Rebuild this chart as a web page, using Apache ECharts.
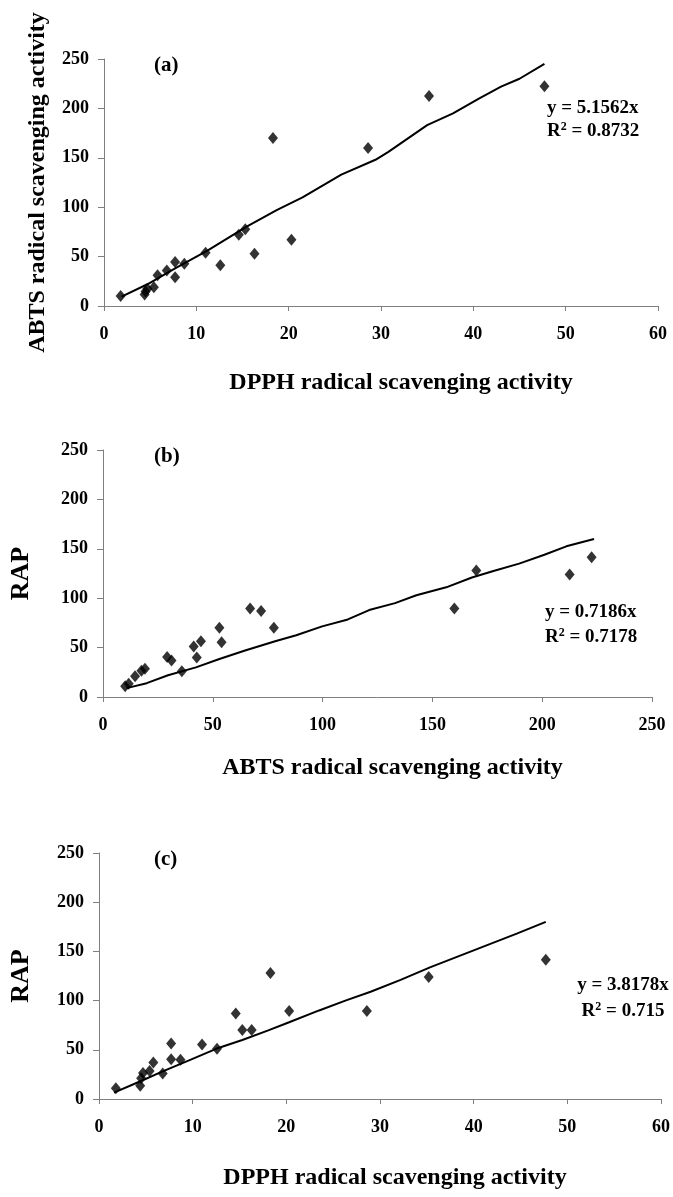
<!DOCTYPE html>
<html>
<head>
<meta charset="utf-8">
<script src="https://cdn.jsdelivr.net/npm/echarts@6/dist/echarts.min.js"></script>
<style>
html,body{margin:0;padding:0;background:#fff;}
#chart{width:673px;height:1197px;}
</style>
</head>
<body>
<div id="chart"></div>
<script>
// Samples (same 20 extracts in all three panels)
const dpph = [1.8, 4.4, 4.5, 4.7, 5.4, 5.8, 6.8, 7.7, 7.7, 8.7, 11.0, 12.6, 14.6, 15.3, 16.3, 18.3, 20.3, 28.6, 35.2, 47.7];
const abts = [10.1, 11.7, 14.6, 17.5, 19.1, 31.2, 35.9, 44.6, 29.2, 42.7, 54.0, 41.3, 72.0, 77.8, 53.0, 170.0, 67.0, 160.0, 212.5, 222.5];
const rap  = [10.8, 13.5, 21.0, 26.5, 28.5, 37.0, 26.0, 56.5, 40.5, 40.0, 55.5, 51.0, 87.0, 70.0, 70.0, 128.0, 89.5, 89.5, 124.0, 141.5];

// Trend lines as drawn in the picture (x, y vertices)
const trendA = [[1.9,9.4],[4.7,22],[7.7,38],[11.2,56],[15.4,80],[18.7,97],[21.5,110],[25.7,133],[29.4,148],[30.8,156],[35,183],[37.8,195],[40.6,210],[43,222],[45,230],[47.7,245]];
const trendB = [[10.7,9],[19.9,14],[29.6,22],[42.3,30],[53,38.5],[64.7,47],[78.4,56.5],[88,62.5],[99.8,71.5],[111.5,78.5],[121.2,88],[133,95],[142.7,103],[156.3,111],[168,121],[177.8,127.5],[189.5,135],[201,144],[211,152.5],[223.6,160]];
const trendC = [[1.6,6.5],[4.3,17.5],[6.8,28],[9.8,40],[12.5,51],[15.3,60],[18,69.5],[20.3,78],[23.5,90],[26.3,100],[29,109],[32.2,121],[35.4,134],[40,151],[44.6,168],[47.7,180]];

// Axis ticks / labels
const dpphAxis = {min: 0, max: 60, interval: 10};
const abtsAxis = {min: 0, max: 250, interval: 50};
const rapAxis  = {min: 0, max: 250, interval: 50};

const panelLabels = ['(a)', '(b)', '(c)'];
const eqLines = [
  ['y = 5.1562x', 'R{sup|2} = 0.8732'],
  ['y = 0.7186x', 'R{sup|2} = 0.7178'],
  ['y = 3.8178x', 'R{sup|2} = 0.715']
];
const xNames = ['DPPH radical scavenging activity', 'ABTS radical scavenging activity', 'DPPH radical scavenging activity'];
const yNames = ['ABTS radical scavenging activity', 'RAP', 'RAP'];

const FONT = "'Liberation Serif','Times New Roman',serif";
const axisColor = '#7f7f7f';

const grids = [
  {left: 104, top: 59, width: 554, height: 247},
  {left: 97, top: 450, width: 555, height: 247},
  {left: 97, top: 853, width: 566, height: 246}
];

function xAxisCfg(i, range, name, nameGap, shift) {
  return {
    type: 'value', gridIndex: i, min: range.min, max: range.max, interval: range.interval,
    name: name, nameLocation: 'middle', nameGap: nameGap,
    nameTextStyle: {fontFamily: FONT, fontWeight: 'bold', fontSize: 24, color: '#000', padding: [0, 0, 0, shift]},
    axisLine: {show: true, onZero: false, lineStyle: {color: axisColor, width: 1}},
    axisTick: {show: true, length: 5, inside: false, lineStyle: {color: axisColor}},
    axisLabel: {fontFamily: FONT, fontWeight: 'bold', fontSize: 18, color: '#000', margin: 19},
    splitLine: {show: false}
  };
}
function yAxisCfg(i, range, name, nameGap, size) {
  return {
    type: 'value', gridIndex: i, min: range.min, max: range.max, interval: range.interval,
    name: name, nameLocation: 'middle', nameGap: nameGap, nameRotate: 90,
    nameTextStyle: {fontFamily: FONT, fontWeight: 'bold', fontSize: size, color: '#000'},
    axisLine: {show: true, onZero: false, lineStyle: {color: axisColor, width: 1}},
    axisTick: {show: true, length: 6, inside: false, lineStyle: {color: axisColor}},
    axisLabel: {fontFamily: FONT, fontWeight: 'bold', fontSize: 18, color: '#000', margin: 15},
    splitLine: {show: false}
  };
}

const scatterStyle = {symbol: 'diamond', symbolSize: [10, 12], itemStyle: {color: '#000'}};
const lineStyleCfg = {symbol: 'none', lineStyle: {color: '#000', width: 2}, silent: true};

const eqPos = [
  {x: 547, y1: 108, y2: 131, align: 'left'},
  {x: 545, y1: 612, y2: 637, align: 'left'},
  {x: 623, y1: 985, y2: 1011, align: 'center'}
];
const labelPos = [{x: 154, y: 67}, {x: 154, y: 458}, {x: 154, y: 861}];

const graphics = [];
panelLabels.forEach((t, i) => {
  graphics.push({type: 'text', left: labelPos[i].x, top: labelPos[i].y - 12,
    style: {text: t, font: "bold 21px " + FONT, fill: '#000'}});
});
eqLines.forEach((lines, i) => {
  const p = eqPos[i];
  [p.y1, p.y2].forEach((yy, k) => {
    graphics.push({type: 'text', x: p.x, y: yy,
      style: {text: lines[k], font: "bold 19px " + FONT, fill: '#000', align: p.align, verticalAlign: 'middle',
        rich: {sup: {fontSize: 12, fontWeight: 'bold', fontFamily: FONT, verticalAlign: 'top', padding: [0, 0, 8, 0], fill: '#000'}}}});
  });
});

const option = {
  backgroundColor: '#fff',
  animation: false,
  grid: grids,
  xAxis: [
    xAxisCfg(0, dpphAxis, xNames[0], 65, 40),
    xAxisCfg(1, abtsAxis, xNames[1], 59, 30),
    xAxisCfg(2, dpphAxis, xNames[2], 67, 30)
  ],
  yAxis: [
    yAxisCfg(0, abtsAxis, yNames[0], 54, 24),
    yAxisCfg(1, rapAxis, yNames[1], 69, 26),
    yAxisCfg(2, rapAxis, yNames[2], 65, 26)
  ],
  series: [
    Object.assign({type: 'line', xAxisIndex: 0, yAxisIndex: 0, data: trendA, z: 2}, lineStyleCfg),
    Object.assign({type: 'scatter', xAxisIndex: 0, yAxisIndex: 0, data: dpph.map((d, i) => [d, abts[i]]), z: 3}, scatterStyle),
    Object.assign({type: 'line', xAxisIndex: 1, yAxisIndex: 1, data: trendB, z: 2}, lineStyleCfg),
    Object.assign({type: 'scatter', xAxisIndex: 1, yAxisIndex: 1, data: abts.map((a, i) => [a, rap[i]]), z: 3}, scatterStyle),
    Object.assign({type: 'line', xAxisIndex: 2, yAxisIndex: 2, data: trendC, z: 2}, lineStyleCfg),
    Object.assign({type: 'scatter', xAxisIndex: 2, yAxisIndex: 2, data: dpph.map((d, i) => [d, rap[i]]), z: 3}, scatterStyle)
  ],
  graphic: graphics
};

const chart = echarts.init(document.getElementById('chart'), null, {renderer: 'canvas'});
chart.setOption(option);
</script>
</body>
</html>
